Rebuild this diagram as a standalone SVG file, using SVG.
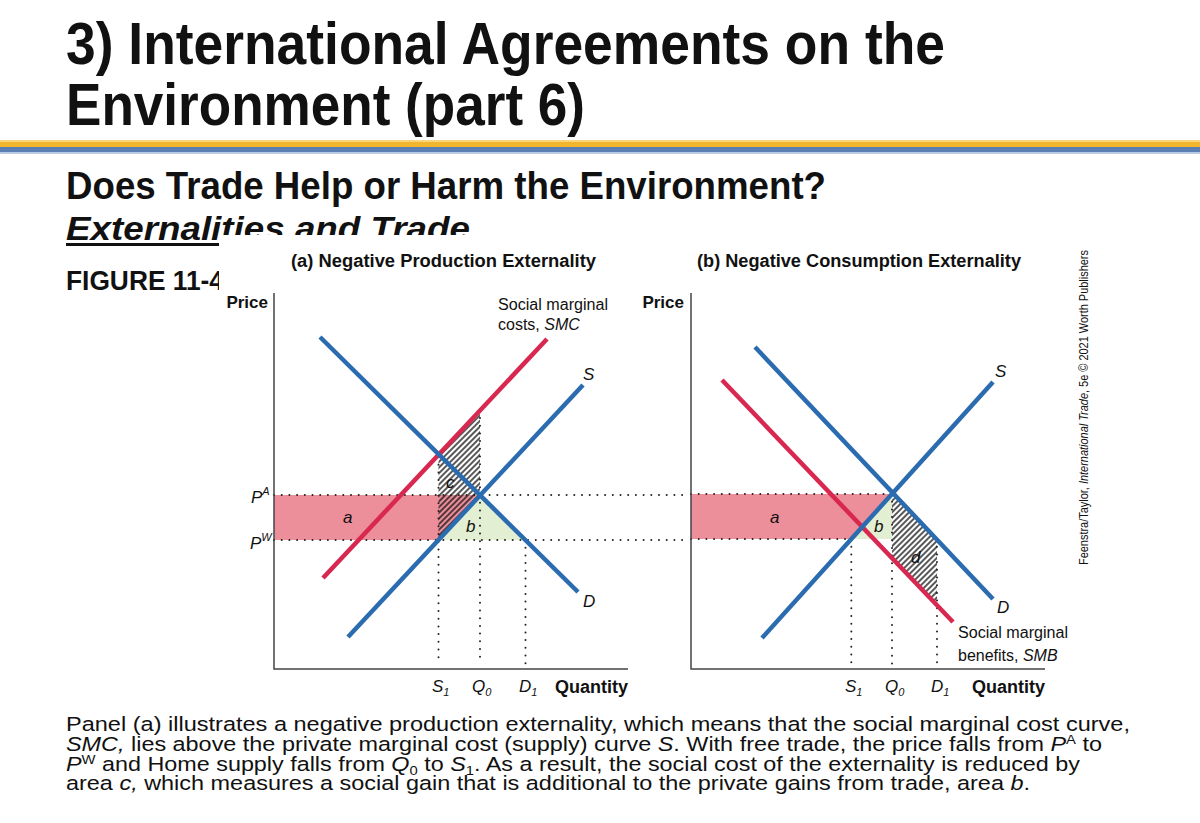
<svg xmlns="http://www.w3.org/2000/svg" width="1200" height="823" viewBox="0 0 1200 823">
<style>
text{font-family:"Liberation Sans",Arial,sans-serif;fill:#111}
.h{font-weight:bold}
.it{font-style:italic}
.lbl{font-size:17px}
.ax{stroke:#444;stroke-width:1.5;fill:none}
.blue{stroke:#2B6CB0;stroke-width:4.5;fill:none}
.red{stroke:#D8284F;stroke-width:4.5;fill:none}
.dot{stroke:#222;stroke-width:2;stroke-linecap:round;stroke-dasharray:0 7.7;fill:none}
.pink{fill:#EC8F9B}
.green{fill:#E3EFD2}
.hatch{fill:url(#hatch)}
.para{font-size:20.5px}
</style>
<defs>
<pattern id="hatch" width="4" height="4" patternUnits="userSpaceOnUse" patternTransform="rotate(45)">
<line x1="1" y1="0" x2="1" y2="4" stroke="#111" stroke-width="1.4"/>
</pattern>
</defs>

<!-- Title -->
<g id="title">
<text class="h" x="66" y="64" font-size="60" textLength="879" lengthAdjust="spacingAndGlyphs">3) International Agreements on the</text>
<text class="h" x="66" y="125" font-size="60" textLength="519" lengthAdjust="spacingAndGlyphs">Environment (part 6)</text>
</g>
<g id="rule">
<rect x="0" y="140" width="1200" height="2" fill="#F8D77A"/>
<rect x="0" y="142" width="1200" height="5" fill="#F2B52E"/>
<rect x="0" y="147" width="1200" height="5" fill="#5B7EB3"/>
<rect x="0" y="152" width="1200" height="2" fill="#B9CBE3"/>
</g>
<g id="subtitle">
<text class="h" x="66" y="199" font-size="38" textLength="760" lengthAdjust="spacingAndGlyphs">Does Trade Help or Harm the Environment?</text>
<text class="h it" x="66" y="240" font-size="34" textLength="404" lengthAdjust="spacingAndGlyphs">Externalities and Trade</text>
<rect x="66" y="243" width="404" height="3" fill="#111"/>
<text class="h" x="66" y="290" font-size="27" textLength="158" lengthAdjust="spacingAndGlyphs">FIGURE 11-4</text>
</g>
<!-- figure background covering -->
<rect id="figure-bg" x="219" y="235" width="880" height="462" fill="#fff"/>

<!-- Panel titles -->
<text class="h" x="291" y="267" font-size="18" textLength="305" lengthAdjust="spacingAndGlyphs">(a) Negative Production Externality</text>
<text class="h" x="697" y="267" font-size="18" textLength="324" lengthAdjust="spacingAndGlyphs">(b) Negative Consumption Externality</text>

<!-- Panel (a) areas -->
<g id="areas-a">
<polygon class="pink" points="274,495 480,495 438.5,540 274,540"/>
<polygon class="green" points="438.5,540 480,495 525.5,540"/>
<polygon class="hatch" points="438.5,455.3 480,410.5 480,495 438.5,540"/>
</g>
<!-- Panel (b) areas -->
<g id="areas-b">
<polygon class="pink" points="691,494 892,494 851.3,539 691,539"/>
<polygon class="green" points="892,494 851.3,539 892,539"/>
<polygon class="hatch" points="892,494 937,539.5 937,605 892,558"/>
</g>

<g id="connectors">
<!-- dotted guides (a) -->
<line class="dot" x1="274" y1="495" x2="684" y2="495"/>
<line class="dot" x1="274" y1="540" x2="684" y2="540"/>
<line class="dot" x1="438.5" y1="457" x2="438.5" y2="664"/>
<line class="dot" x1="480" y1="418" x2="480" y2="664"/>
<line class="dot" x1="525.5" y1="540" x2="525.5" y2="664"/>
<!-- dotted guides (b) -->
<line class="dot" x1="691" y1="494" x2="892" y2="494"/>
<line class="dot" x1="691" y1="539" x2="851" y2="539"/>
<line class="dot" x1="851.3" y1="539" x2="851.3" y2="664"/>
<line class="dot" x1="892" y1="494" x2="892" y2="664"/>
<line class="dot" x1="937" y1="539" x2="937" y2="664"/>
<!-- axes -->
<path class="ax" d="M274,293 V669 H628"/>
<path class="ax" d="M691,293 V669 H1045"/>
<!-- curves (a) -->
<line id="smc" class="red" x1="323" y1="578" x2="547" y2="339"/>
<line id="d-a" class="blue" x1="320" y1="337" x2="578" y2="592"/>
<line id="s-a" class="blue" x1="348" y1="637" x2="583" y2="385"/>
<!-- curves (b) -->
<line id="smb" class="red" x1="722" y1="380" x2="953" y2="622"/>
<line id="d-b" class="blue" x1="755" y1="347" x2="993" y2="599"/>
<line id="s-b" class="blue" x1="762" y1="638" x2="993" y2="382"/>
</g>

<!-- Labels (a) -->
<g id="labels-a">
<text class="h" x="268" y="308" font-size="17" text-anchor="end">Price</text>
<text x="498" y="310" font-size="16" textLength="110" lengthAdjust="spacingAndGlyphs">Social marginal</text>
<text x="498" y="330" font-size="16">costs, <tspan class="it">SMC</tspan></text>
<text class="it lbl" x="583" y="380">S</text>
<text class="it lbl" x="583" y="607">D</text>
<text class="it lbl" x="343" y="523">a</text>
<text class="it lbl" x="446" y="488">c</text>
<text class="it lbl" x="466" y="532">b</text>
<text class="it lbl" x="251" y="503">P<tspan font-size="11" dy="-8">A</tspan></text>
<text class="it lbl" x="250" y="549">P<tspan font-size="11" dy="-8">W</tspan></text>
<text class="it lbl" x="432" y="692">S<tspan font-size="11" dy="4">1</tspan></text>
<text class="it lbl" x="472" y="692">Q<tspan font-size="11" dy="4">0</tspan></text>
<text class="it lbl" x="519" y="692">D<tspan font-size="11" dy="4">1</tspan></text>
<text class="h" x="555" y="693" font-size="18" textLength="73" lengthAdjust="spacingAndGlyphs">Quantity</text>
</g>

<!-- Labels (b) -->
<g id="labels-b">
<text class="h" x="684" y="308" font-size="17" text-anchor="end">Price</text>
<text class="it lbl" x="995" y="377">S</text>
<text class="it lbl" x="997" y="613">D</text>
<text x="958" y="638" font-size="16" textLength="110" lengthAdjust="spacingAndGlyphs">Social marginal</text>
<text x="958" y="661" font-size="16">benefits, <tspan class="it">SMB</tspan></text>
<text class="it lbl" x="770" y="523">a</text>
<text class="it lbl" x="874" y="532">b</text>
<text class="it lbl" x="911" y="563">d</text>
<text class="it lbl" x="845" y="692">S<tspan font-size="11" dy="4">1</tspan></text>
<text class="it lbl" x="885" y="692">Q<tspan font-size="11" dy="4">0</tspan></text>
<text class="it lbl" x="931" y="692">D<tspan font-size="11" dy="4">1</tspan></text>
<text class="h" x="972" y="693" font-size="18" textLength="73" lengthAdjust="spacingAndGlyphs">Quantity</text>
</g>

<!-- Credit -->
<text id="credit" transform="translate(1088,565) rotate(-90)" font-size="12.5" textLength="315" lengthAdjust="spacingAndGlyphs">Feenstra/Taylor, <tspan class="it">International Trade</tspan>, 5e © 2021 Worth Publishers</text>

<!-- Caption -->
<g id="caption">
<text class="para" x="66" y="731" textLength="1064" lengthAdjust="spacingAndGlyphs">Panel (a) illustrates a negative production externality, which means that the social marginal cost curve,</text>
<text class="para" x="66" y="751" textLength="1036" lengthAdjust="spacingAndGlyphs"><tspan class="it">SMC,</tspan> lies above the private marginal cost (supply) curve <tspan class="it">S</tspan>. With free trade, the price falls from <tspan class="it">P</tspan><tspan font-size="13" dy="-7">A</tspan><tspan dy="7"> to</tspan></text>
<text class="para" x="66" y="771" textLength="1014" lengthAdjust="spacingAndGlyphs"><tspan class="it">P</tspan><tspan font-size="13" dy="-7">W</tspan><tspan dy="7"> and Home supply falls from </tspan><tspan class="it">Q</tspan><tspan font-size="13" dy="4">0</tspan><tspan dy="-4"> to </tspan><tspan class="it">S</tspan><tspan font-size="13" dy="4">1</tspan><tspan dy="-4">. As a result, the social cost of the externality is reduced by</tspan></text>
<text class="para" x="66" y="790" textLength="964" lengthAdjust="spacingAndGlyphs">area <tspan class="it">c,</tspan> which measures a social gain that is additional to the private gains from trade, area <tspan class="it">b</tspan>.</text>
</g>
</svg>
